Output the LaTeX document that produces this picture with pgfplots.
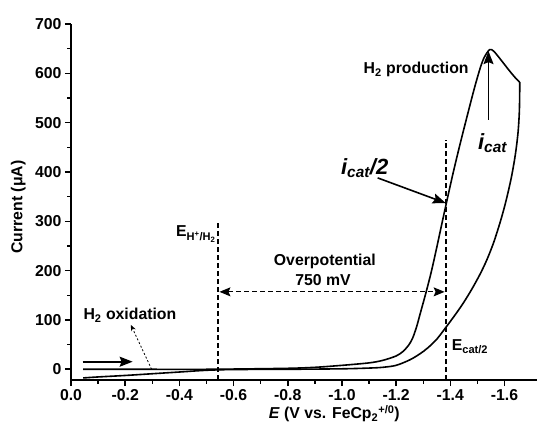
\documentclass[border=0pt]{standalone}
\usepackage{fontspec}
\setmainfont{Liberation Sans}
\usepackage{pgfplots}
\pgfplotsset{compat=1.18}
\usetikzlibrary{arrows.meta}

\newcommand{\lf}{\fontsize{15.8}{17}\selectfont\bfseries}

\begin{document}
\begin{tikzpicture}
\begin{axis}[
  scale only axis, width=466pt, height=356pt,
  xmin=-1.72, xmax=0, ymin=-21.7, ymax=700,
  x dir=reverse,
  axis lines*=left,
  axis line style={line width=1.6pt},
  tick align=outside,
  major tick length=6pt, minor tick length=3.5pt,
  major tick style={line width=1.6pt, black},
  minor tick style={line width=1.4pt, black},
  xtick={0,-0.2,-0.4,-0.6,-0.8,-1.0,-1.2,-1.4,-1.6},
  minor x tick num=1,
  ytick={0,100,...,700},
  minor y tick num=1,
  /pgf/number format/assume math mode=true,
  xticklabel style={font=\lf, /pgf/number format/.cd, fixed, zerofill, precision=1},
  yticklabel style={font=\lf},
  xlabel={\textit{E} (V vs. FeCp\textsubscript{2}\textsuperscript{+/0})},
  ylabel={Current (μA)},
  xlabel style={font=\lf, at={(axis description cs:0.565,-0.0955)}, anchor=center},
  ylabel style={font=\lf, at={(axis description cs:-0.113,0.486)}, anchor=center},
  clip=false,
]
% forward scan
\addplot[black, line width=1.6pt, smooth, tension=0.5] coordinates {
(-0.045,0) (-0.3,0) (-0.5,0) (-0.6,0.5) (-0.8,2) (-0.9,4) (-1.0,8) (-1.1,13) (-1.15,18) (-1.2,27) (-1.225,36) (-1.245,48) (-1.26,62) (-1.275,85) (-1.29,115) (-1.31,155) (-1.33,198) (-1.35,247) (-1.37,298) (-1.39,348) (-1.41,397) (-1.43,443) (-1.45,487) (-1.47,530) (-1.49,572) (-1.51,610) (-1.525,632) (-1.545,648) (-1.56,645) (-1.58,632) (-1.60,618) (-1.62,604) (-1.64,591) (-1.656,582)
};
% reverse scan
\addplot[black, line width=1.6pt, smooth, tension=0.5] coordinates {
(-1.6565,582) (-1.655,525) (-1.65,480) (-1.64,435) (-1.625,388) (-1.605,340) (-1.585,300) (-1.56,257) (-1.535,222) (-1.51,193) (-1.48,163) (-1.45,136) (-1.42,112) (-1.385,86) (-1.35,61) (-1.316,43) (-1.287,31) (-1.25,19) (-1.2,8) (-1.15,4) (-1.1,2.5) (-1.0,1) (-0.8,0) (-0.6,-0.5) (-0.5,-2) (-0.4,-5.5) (-0.3,-9) (-0.2,-12.5) (-0.1,-15.5) (-0.045,-17.5)
};
% annotations
\draw[line width=1.6pt, -{Stealth[length=13pt,width=10pt,inset=2pt]}] (axis cs:-0.043,15.4) -- (axis cs:-0.2275,15.4);
\draw[line width=0.8pt, dash pattern=on 2pt off 2pt, -{Stealth[length=6pt,width=5pt]}] (axis cs:-0.2975,0) -- (axis cs:-0.221,90);
\node[font=\lf] at (axis cs:-0.2175,110) {H\textsubscript{2} oxidation};

\draw[line width=1.5pt, dash pattern=on 5pt off 3pt] (axis cs:-0.543,-21.7) -- (axis cs:-0.543,299);
\node[font=\lf, anchor=east, inner sep=0pt] at (axis cs:-0.536,274) {E\textsubscript{H\textsuperscript{+}/H\textsubscript{2}}};

\draw[line width=1.5pt, dash pattern=on 5pt off 3pt] (axis cs:-1.384,-21.7) -- (axis cs:-1.384,465);
\node[font=\lf, anchor=west, inner sep=0pt] at (axis cs:-1.405,46) {E\textsubscript{cat/2}};

\draw[line width=1.1pt, dash pattern=on 5pt off 3pt, {Stealth[length=11pt,width=9pt,inset=2pt]}-{Stealth[length=11pt,width=9pt,inset=2pt]}] (axis cs:-0.548,157) -- (axis cs:-1.379,157);
\node[font=\lf] at (axis cs:-0.937,218) {Overpotential};
\node[font=\lf] at (axis cs:-0.93,180) {750 mV};

\node[font=\fontsize{22}{22}\selectfont\bfseries\itshape] at (axis cs:-1.084,408) {i\textsubscript{cat}/2};
\draw[line width=1.6pt, -{Stealth[length=13pt,width=10pt,inset=2pt]}] (axis cs:-1.132,388) -- (axis cs:-1.383,337);

\draw[line width=1.6pt, -{Stealth[length=13pt,width=10pt,inset=2pt]}] (axis cs:-1.541,506) -- (axis cs:-1.541,645);
\node[font=\fontsize{22}{22}\selectfont\bfseries\itshape] at (axis cs:-1.556,459) {i\textsubscript{cat}};

\node[font=\lf] at (axis cs:-1.274,607) {H\textsubscript{2} production};

\coordinate (ll) at (axis description cs:0,0);
\coordinate (ur) at (axis description cs:1,1);
\end{axis}
\pgfresetboundingbox
\path ([xshift=-71pt,yshift=-49pt]ll) rectangle ([xshift=1pt,yshift=24pt]ur);
\end{tikzpicture}
\end{document}
